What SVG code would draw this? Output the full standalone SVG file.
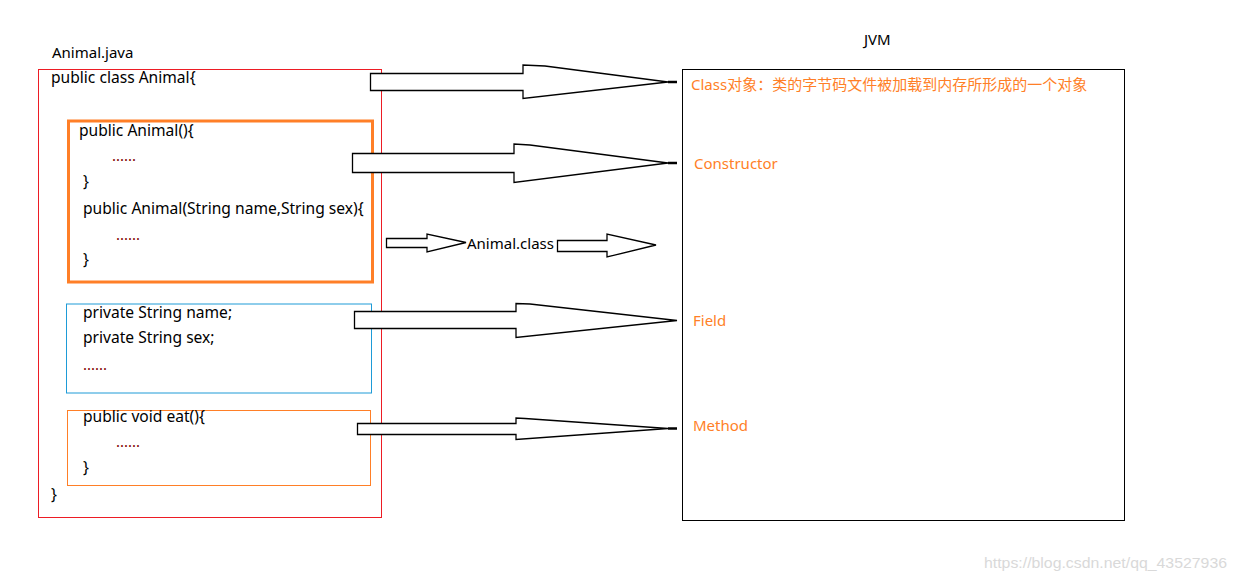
<svg xmlns="http://www.w3.org/2000/svg" width="1237" height="580" viewBox="0 0 1237 580">
<style>
.t{font-family:"Noto Sans","Noto Sans CJK SC",sans-serif;font-size:15px;fill:#000}
.c{font-family:"Noto Sans","Noto Sans CJK SC",sans-serif;font-size:15.6px;fill:#000}
.d{font-family:"Noto Sans",sans-serif;font-size:15px;fill:#800000}
.o{font-family:"Noto Sans","Noto Sans CJK SC",sans-serif;font-size:15px;fill:#FF7F27}
.arr{fill:#fff;stroke:#000;stroke-width:1.3;stroke-linejoin:miter}
.stub{stroke:#000;stroke-width:2.5}
</style>
<rect width="1237" height="580" fill="#fff"/>
<g id="java-file">
<text class="t" x="52" y="58">Animal.java</text>
<rect x="38.5" y="69.5" width="343" height="448" fill="none" stroke="#ED1C24" stroke-width="1"/>
<text class="c" x="51" y="83">public class Animal{</text>
<text class="c" x="51" y="500">}</text>
</g>
<g id="constructors">
<rect x="68.5" y="121" width="304" height="161" fill="none" stroke="#FF7F27" stroke-width="3"/>
<text class="c" x="79" y="136">public Animal(){</text>
<text class="d" x="112" y="161">......</text>
<text class="c" x="83" y="187">}</text>
<text class="c" x="83" y="214">public Animal(String name,String sex){</text>
<text class="d" x="116" y="240">......</text>
<text class="c" x="83" y="265">}</text>
</g>
<g id="fields">
<rect x="66.5" y="304" width="305" height="89" fill="none" stroke="#1E9BD7" stroke-width="1"/>
<text class="c" x="83" y="318">private String name;</text>
<text class="c" x="83" y="343">private String sex;</text>
<text class="d" x="83" y="370">......</text>
</g>
<g id="methods">
<rect x="67.5" y="410.5" width="303" height="75" fill="none" stroke="#FF7F27" stroke-width="1"/>
<text class="c" x="83" y="422">public void eat(){</text>
<text class="d" x="116" y="447">......</text>
<text class="c" x="83" y="473">}</text>
</g>
<g id="jvm">
<text class="t" x="864" y="45">JVM</text>
<rect x="682.5" y="69.5" width="442" height="451" fill="none" stroke="#000" stroke-width="1"/>
<text class="o" x="691" y="90">Class对象：类的字节码文件被加载到内存所形成的一个对象</text>
<text class="o" x="694" y="169">Constructor</text>
<text class="o" x="693" y="326">Field</text>
<text class="o" x="693" y="431">Method</text>
</g>
<g id="animal-class">
<text class="t" x="467" y="249">Animal.class</text>
</g>
<g id="connectors">
<polygon class="arr" points="370.5,73.5 523,73.5 523,65 545,66 668,82 523,98.5 523,90.5 370.5,90.5"/>
<line class="stub" x1="668" y1="82" x2="677" y2="82"/>
<polygon class="arr" points="352.5,153.5 514,153.5 514,144 530,145 668,163 514,182.5 514,172.5 352.5,172.5"/>
<line class="stub" x1="668" y1="163" x2="677" y2="163"/>
<polygon class="arr" points="386.5,238.5 427,238.5 427,234 466,242.5 427,252 427,247.5 386.5,247.5"/>
<polygon class="arr" points="557.5,240.5 607,240.5 607,234 656,245 607,257 607,251.5 557.5,251.5"/>
<polygon class="arr" points="354.5,311.5 516,311.5 516,303.5 530,304 677,320.5 516,337.5 516,328.5 354.5,328.5"/>
<polygon class="arr" points="357.5,423.5 516,423.5 516,418 525,418.5 668,428.5 516,439.5 516,434.5 357.5,434.5"/>
<line class="stub" x1="668" y1="428.5" x2="677" y2="428.5"/>
</g>
<text x="984" y="568" font-family="Liberation Sans,Arial,sans-serif" font-size="15" fill="#D9D9D9" textLength="243" lengthAdjust="spacingAndGlyphs">https://blog.csdn.net/qq_43527936</text>
</svg>
